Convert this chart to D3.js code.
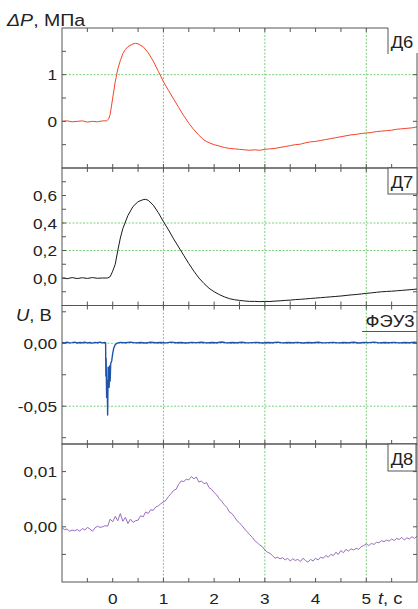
<!DOCTYPE html>
<html><head><meta charset="utf-8">
<script src="https://cdn.jsdelivr.net/npm/d3@7"></script>
<style>
html,body{margin:0;padding:0;background:#fff;}
text{font-family:"Liberation Sans",Arial,sans-serif;fill:#222;}
</style></head>
<body><svg id="c" width="418" height="609"></svg>
<script>
// ---------- data ----------
const tDomain = [-1, 6];
const tTicks = [-0.5,0,0.5,1,1.5,2,2.5,3,3.5,4,4.5,5,5.5];
const tLabels = [0,1,2,3,4,5];
const tGrid = [1,3,5];

// Д6, МПа
const d6 = [[-1.0,0.0],[-0.9,0.01],[-0.8,-0.01],[-0.7,0.0],[-0.6,0.01],[-0.5,-0.015],[-0.4,0.0],[-0.3,-0.01],[-0.2,0.01],[-0.12,0.01],
[-0.08,0.05],[-0.05,0.15],[0.0,0.5],[0.05,0.85],[0.1,1.12],[0.15,1.3],[0.2,1.45],[0.25,1.54],[0.3,1.6],[0.4,1.66],[0.45,1.67],[0.5,1.66],
[0.6,1.6],[0.7,1.47],[0.8,1.29],[0.9,1.07],[1.0,0.85],[1.1,0.66],[1.2,0.48],[1.3,0.3],[1.4,0.12],[1.5,-0.04],[1.6,-0.18],[1.7,-0.3],
[1.8,-0.4],[1.9,-0.46],[2.0,-0.5],[2.1,-0.53],[2.2,-0.56],[2.3,-0.58],[2.4,-0.59],[2.5,-0.6],[2.6,-0.61],[2.7,-0.62],[2.8,-0.61],[2.9,-0.62],
[3.0,-0.6],[3.1,-0.59],[3.2,-0.58],[3.3,-0.56],[3.4,-0.54],[3.5,-0.52],[3.6,-0.5],[3.7,-0.49],[3.8,-0.46],[3.9,-0.44],[4.0,-0.43],
[4.1,-0.41],[4.2,-0.39],[4.3,-0.37],[4.4,-0.35],[4.5,-0.33],[4.6,-0.31],[4.7,-0.29],[4.8,-0.28],[4.9,-0.26],[5.0,-0.25],[5.1,-0.24],
[5.2,-0.22],[5.3,-0.21],[5.4,-0.2],[5.5,-0.19],[5.6,-0.17],[5.7,-0.16],[5.8,-0.15],[5.9,-0.14],[6.0,-0.12]];

// Д7, МПа
const d7 = [[-1.0,0.0],[-0.9,-0.005],[-0.8,0.003],[-0.7,-0.004],[-0.6,0.002],[-0.5,-0.003],[-0.4,0.003],[-0.3,-0.002],[-0.2,0.0],[-0.1,0.0],
[-0.05,0.01],[0.0,0.05],[0.05,0.1],[0.1,0.2],[0.15,0.29],[0.2,0.36],[0.3,0.455],[0.4,0.52],[0.5,0.555],[0.6,0.57],[0.65,0.572],[0.7,0.565],
[0.8,0.53],[0.9,0.475],[1.0,0.41],[1.1,0.35],[1.2,0.285],[1.3,0.225],[1.4,0.165],[1.5,0.105],[1.6,0.05],[1.7,0.0],[1.8,-0.04],[1.9,-0.075],
[2.0,-0.1],[2.1,-0.12],[2.2,-0.137],[2.3,-0.15],[2.4,-0.158],[2.5,-0.163],[2.6,-0.167],[2.7,-0.17],[2.8,-0.17],[2.9,-0.172],[3.0,-0.17],
[3.1,-0.171],[3.2,-0.168],[3.3,-0.166],[3.4,-0.163],[3.5,-0.161],[3.6,-0.157],[3.7,-0.155],[3.8,-0.152],[3.9,-0.149],[4.0,-0.146],
[4.1,-0.143],[4.2,-0.14],[4.3,-0.137],[4.4,-0.134],[4.5,-0.131],[4.6,-0.127],[4.7,-0.123],[4.8,-0.12],[4.9,-0.116],[5.0,-0.112],
[5.1,-0.108],[5.2,-0.104],[5.3,-0.1],[5.4,-0.098],[5.5,-0.096],[5.6,-0.093],[5.7,-0.09],[5.8,-0.087],[5.9,-0.084],[6.0,-0.08]];

// ФЭУ3, В
const feu3 = [[-1.0,0.0006],[-0.95,0.0002],[-0.9,0.0008],[-0.85,0.0003],[-0.8,0.0005],[-0.75,0.0009],[-0.7,0.0002],[-0.65,0.0006],
[-0.6,0.0004],[-0.55,0.0008],[-0.5,0.0003],[-0.45,0.0006],[-0.4,0.0001],[-0.35,0.0007],[-0.3,0.0004],[-0.25,0.0009],[-0.2,0.0003],
[-0.16,0.0006],[-0.14,0.0004],[-0.135,-0.026],[-0.13,-0.012],[-0.12,-0.043],[-0.11,-0.03],[-0.1,-0.057],[-0.095,-0.04],[-0.09,-0.019],
[-0.08,-0.022],[-0.07,-0.035],[-0.06,-0.018],[-0.05,-0.03],[-0.04,-0.016],[-0.02,-0.014],[0.0,-0.008],[0.02,-0.004],[0.05,-0.001],
[0.1,0.0003],[0.15,0.0007],[0.25,0.0004],[0.35,0.0009],[0.45,0.0003],[0.55,0.0006],[0.65,0.0002],[0.75,0.0008],[0.85,0.0004],
[0.95,0.0006],[1.05,0.0003],[1.15,0.0009],[1.25,0.0004],[1.35,0.0006],[1.45,0.0002],[1.55,0.0007],[1.65,0.0005],[1.75,0.0008],
[1.85,0.0003],[1.95,0.0006],[2.05,0.0004],[2.15,0.001],[2.25,0.0003],[2.35,0.0006],[2.45,0.0004],[2.55,0.0008],[2.65,0.0003],
[2.75,0.0005],[2.85,0.0007],[2.95,0.0002],[3.05,0.0006],[3.15,0.0004],[3.25,0.0009],[3.35,0.0003],[3.45,0.0006],[3.55,0.0004],
[3.65,0.0007],[3.75,0.0002],[3.85,0.0006],[3.95,0.0004],[4.05,0.0008],[4.15,0.0003],[4.25,0.0005],[4.35,0.0007],[4.45,0.0003],
[4.55,0.0006],[4.65,0.0004],[4.75,0.0008],[4.85,0.0002],[4.95,0.0006],[5.05,0.0005],[5.15,0.0009],[5.25,0.0003],[5.35,0.0006],
[5.45,0.0004],[5.55,0.0007],[5.65,0.0003],[5.75,0.0006],[5.85,0.0004],[5.95,0.0008],[6.0,0.0005]];

// Д8, МПа
const d8 = [[-1.00,-0.0002],[-0.95,-0.0005],[-0.90,-0.0004],[-0.85,-0.0008],[-0.80,-0.0006],[-0.75,-0.0007],[-0.70,-0.0005],[-0.65,-0.0008],
[-0.60,-0.0003],[-0.55,-0.0006],[-0.50,-0.0001],[-0.45,-0.0004],[-0.40,-0.0008],[-0.35,-0.0002],[-0.30,0.0001],[-0.25,-0.0001],
[-0.20,0.0000],[-0.15,0.0002],[-0.10,0.0001],[-0.05,0.0014],[0.00,0.0009],[0.05,0.0019],[0.10,0.0011],[0.15,0.0024],[0.20,0.0010],
[0.25,0.0017],[0.30,0.0006],[0.35,0.0014],[0.40,0.0008],[0.45,0.0011],[0.50,0.0012],[0.55,0.0020],[0.60,0.0018],[0.65,0.0027],
[0.70,0.0024],[0.75,0.0031],[0.80,0.0030],[0.85,0.0036],[0.90,0.0038],[0.95,0.0042],[1.00,0.0045],[1.05,0.0048],[1.10,0.0055],
[1.15,0.0060],[1.20,0.0066],[1.25,0.0068],[1.30,0.0077],[1.35,0.0083],[1.40,0.0082],[1.45,0.0086],[1.50,0.0085],[1.55,0.0091],
[1.60,0.0087],[1.65,0.0090],[1.70,0.0081],[1.75,0.0083],[1.80,0.0078],[1.85,0.0080],[1.90,0.0071],[1.95,0.0068],[2.00,0.0062],
[2.05,0.0058],[2.10,0.0051],[2.15,0.0046],[2.20,0.0040],[2.25,0.0035],[2.30,0.0027],[2.35,0.0024],[2.40,0.0018],[2.45,0.0011],
[2.50,0.0007],[2.55,0.0002],[2.60,-0.0004],[2.65,-0.0009],[2.70,-0.0014],[2.75,-0.0019],[2.80,-0.0025],[2.85,-0.0029],[2.90,-0.0033],
[2.95,-0.0036],[3.00,-0.0042],[3.05,-0.0046],[3.10,-0.0048],[3.15,-0.0052],[3.20,-0.0057],[3.25,-0.0055],[3.30,-0.0058],[3.35,-0.0056],
[3.40,-0.0060],[3.45,-0.0057],[3.50,-0.0062],[3.55,-0.0058],[3.60,-0.0061],[3.65,-0.0059],[3.70,-0.0063],[3.75,-0.0057],[3.80,-0.0061],
[3.85,-0.0064],[3.90,-0.0059],[3.95,-0.0062],[4.00,-0.0057],[4.05,-0.0060],[4.10,-0.0055],[4.15,-0.0057],[4.20,-0.0052],[4.25,-0.0055],
[4.30,-0.0050],[4.35,-0.0052],[4.40,-0.0046],[4.45,-0.0050],[4.50,-0.0043],[4.55,-0.0047],[4.60,-0.0041],[4.65,-0.0044],[4.70,-0.0040],
[4.75,-0.0042],[4.80,-0.0039],[4.85,-0.0041],[4.90,-0.0036],[4.95,-0.0034],[5.00,-0.0031],[5.05,-0.0034],[5.10,-0.0030],[5.15,-0.0032],
[5.20,-0.0028],[5.25,-0.0029],[5.30,-0.0025],[5.35,-0.0027],[5.40,-0.0024],[5.45,-0.0026],[5.50,-0.0022],[5.55,-0.0025],[5.60,-0.0021],
[5.65,-0.0023],[5.70,-0.0019],[5.75,-0.0024],[5.80,-0.0020],[5.85,-0.0022],[5.90,-0.0018],[5.95,-0.0021],[6.00,-0.0017]];

// y-axis ticks / labels / grids per panel
const y1Ticks = [-0.5,0,0.5,1,1.5], y1Labels = [[1,"1"],[0,"0"]], y1Grid = [1];
const y2Ticks = [-0.1,0,0.1,0.2,0.3,0.4,0.5,0.6,0.7], y2Labels = [[0.6,"0,6"],[0.4,"0,4"],[0.2,"0,2"],[0,"0,0"]], y2Grid = [0.2,0.4];
const y3Ticks = [-0.075,-0.05,-0.025,0,0.025], y3Labels = [[0,"0,00"],[-0.05,"-0,05"]], y3Grid = [0,-0.05];
const y4Ticks = [-0.005,0,0.005,0.01], y4Labels = [[0.01,"0,01"],[0,"0,00"]], y4Grid = [];

// ---------- layout ----------
const svg = d3.select("#c");
const L = 62, R = 417;
const SX = 1.15;
const x = d3.scaleLinear().domain(tDomain).range([L, R]);
const frame = "#555", gridC = "#7ccf7c";

function txt(g, px, py, s, anchor, size, italic){
  const t = g.append("text").attr("transform",`translate(${px},${py}) scale(${SX},1)`)
    .attr("text-anchor",anchor||"start").style("font-size",(size||15)+"px");
  if (italic) t.style("font-style","italic");
  t.text(s);
  return t;
}

const panels = [
  {top:28, bot:168, dom:[-1,2], data:d6, color:"#f5442a", w:1, ticks:y1Ticks, labels:y1Labels, grid:y1Grid, name:"Д6", box:"left"},
  {top:168, bot:305.5, dom:[-0.2,0.8], data:d7, color:"#1a1a1a", w:1, ticks:y2Ticks, labels:y2Labels, grid:y2Grid, name:"Д7", box:"lb"},
  {top:305.5, bot:444, dom:[-0.08,0.03], data:feu3, color:"#1f55a8", w:1.4, ticks:y3Ticks, labels:y3Labels, grid:y3Grid, name:"ФЭУ3", box:"under"},
  {top:444, bot:582, dom:[-0.01,0.015], data:d8, color:"#9a6cc0", w:1, ticks:y4Ticks, labels:y4Labels, grid:y4Grid, name:"Д8", box:"full"}
];

const defs = svg.append("defs");
panels.forEach((p,i)=>{
  const y = d3.scaleLinear().domain(p.dom).range([p.bot, p.top]);
  const g = svg.append("g");
  defs.append("clipPath").attr("id","cl"+i).append("rect")
    .attr("x",L).attr("y",p.top).attr("width",R-L).attr("height",p.bot-p.top);
  // grids
  tGrid.forEach(v=>g.append("line").attr("x1",x(v)).attr("x2",x(v)).attr("y1",p.top).attr("y2",p.bot)
    .attr("stroke",gridC).attr("stroke-width",1).attr("stroke-dasharray","2,1.5"));
  p.grid.forEach(v=>g.append("line").attr("x1",L).attr("x2",R).attr("y1",y(v)).attr("y2",y(v))
    .attr("stroke",gridC).attr("stroke-width",1).attr("stroke-dasharray","2,1.5"));
  // curve
  const line = d3.line().x(d=>x(d[0])).y(d=>y(d[1]));
  g.append("path").datum(p.data).attr("d",line).attr("fill","none")
    .attr("stroke",p.color).attr("stroke-width",p.w).attr("stroke-linejoin","round")
    .attr("clip-path",`url(#cl${i})`);
  // ticks (inward on all sides)
  const tl = 4;
  tTicks.forEach(v=>{
    g.append("line").attr("x1",x(v)).attr("x2",x(v)).attr("y1",p.top).attr("y2",p.top+tl).attr("stroke",frame);
    g.append("line").attr("x1",x(v)).attr("x2",x(v)).attr("y1",p.bot).attr("y2",p.bot-tl).attr("stroke",frame);
  });
  p.ticks.forEach(v=>{
    g.append("line").attr("x1",L).attr("x2",L+tl).attr("y1",y(v)).attr("y2",y(v)).attr("stroke",frame);
    g.append("line").attr("x1",R).attr("x2",R-tl).attr("y1",y(v)).attr("y2",y(v)).attr("stroke",frame);
  });
  // frame
  g.append("rect").attr("x",L).attr("y",p.top).attr("width",R-L).attr("height",p.bot-p.top)
    .attr("fill","none").attr("stroke",frame).attr("stroke-width",1);
  // y labels
  p.labels.forEach(([v,s])=>txt(svg, 57, y(v)+5.5, s, "end", 15));
  // name boxes
  const bx = 388, bh = 26;
  if (p.box==="left"){
    g.append("rect").attr("x",bx).attr("y",p.top-1).attr("width",R-bx+1).attr("height",bh).attr("fill","#fff");
    g.append("line").attr("x1",bx).attr("x2",bx).attr("y1",p.top).attr("y2",p.top+bh).attr("stroke",frame);
    txt(g, 402, p.top+20, p.name, "middle", 16);
  } else if (p.box==="lb"){
    g.append("rect").attr("x",bx).attr("y",p.top).attr("width",R-bx).attr("height",bh).attr("fill","#fff").attr("stroke",frame);
    txt(g, 402, p.top+20, p.name, "middle", 16);
  } else if (p.box==="full"){
    g.append("rect").attr("x",bx).attr("y",p.top).attr("width",R-bx-1).attr("height",bh+1).attr("fill","#fff").attr("stroke",frame);
    txt(g, 402, p.top+21, p.name, "middle", 16);
  } else {
    g.append("line").attr("x1",362).attr("x2",R).attr("y1",331.5).attr("y2",331.5).attr("stroke",frame);
    txt(g, 390, 327, p.name, "middle", 16);
  }
});

// x labels
tLabels.forEach(v=>txt(svg, x(v), 604, String(v), "middle", 15));
const tc = txt(svg, 378, 604, "", "start", 16);
tc.append("tspan").style("font-style","italic").text("t");
tc.append("tspan").text(", с");

// axis titles
const a1 = txt(svg, 7, 26, "", "start", 17);
a1.append("tspan").style("font-style","italic").text("ΔP");
a1.append("tspan").text(", МПа");
const a2 = txt(svg, 16, 321, "", "start", 16);
a2.append("tspan").style("font-style","italic").text("U");
a2.append("tspan").text(", В");
</script></body></html>
